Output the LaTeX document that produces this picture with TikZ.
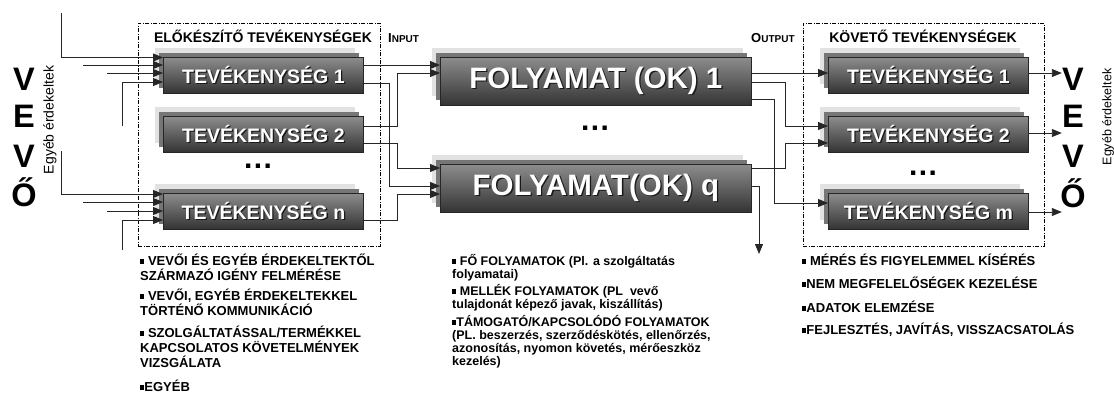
\documentclass[tikz,border=0pt]{standalone}
\usepackage{fontspec}
\setmainfont{Liberation Sans}
\usetikzlibrary{arrows.meta,shadows,calc}
\definecolor{boxtop}{RGB}{140,140,140}
\definecolor{boxbot}{RGB}{52,52,52}
\definecolor{shlight}{RGB}{226,226,226}
\definecolor{shmid}{RGB}{118,118,118}
\newcommand{\shtext}[1]{\rlap{\hspace{1.3pt}\raisebox{-1.3pt}{\color{black!90}#1}}{\color{white}#1}}
\newcommand{\bul}{\rule[1.5pt]{4.2pt}{4.2pt}}
\newcommand{\para}[1]{\parbox[t]{300pt}{\raggedright #1}}
\begin{document}
\begin{tikzpicture}[x=1pt,y=-1pt,
  box/.style={rectangle, anchor=north west, inner sep=0pt, draw=black!85, line width=0.8pt,
     top color=boxtop, bottom color=boxbot,
     copy shadow={shadow xshift=-8.5pt, shadow yshift=9pt, fill=shlight, draw=none},
     copy shadow={shadow xshift=-4pt, shadow yshift=4.5pt, fill=shmid, draw=none}},
  small/.style={box, minimum width=200pt, minimum height=35.5pt, font=\fontsize{19.5}{20}\selectfont\bfseries},
  big/.style={box, minimum width=311pt, minimum height=47.5pt, font=\fontsize{29.5}{30}\selectfont\bfseries},
  group/.style={rectangle, anchor=north west, inner sep=0pt, draw=black, line width=0.8pt,
     dash pattern=on 4pt off 1.5pt on 1pt off 1.5pt},
  title/.style={font=\fontsize{14}{14}\selectfont\bfseries, anchor=base, inner sep=0pt},
  conn/.style={draw=black!85, line width=0.9pt},
  arr/.style={conn, -{Triangle[length=10pt,width=8pt]}},
  big letter/.style={font=\fontsize{32.5}{33}\selectfont\bfseries, anchor=base, inner sep=0pt},
  side/.style={font=\fontsize{14}{14}\selectfont, rotate=90, inner sep=0pt},
  dots/.style={font=\fontsize{30}{30}\selectfont\bfseries, inner sep=0pt, anchor=base},
  colL/.style={font=\fontsize{13}{15}\selectfont\bfseries, anchor=base west, inner sep=0pt},
  colM/.style={font=\fontsize{12.5}{13.3}\selectfont\bfseries, anchor=base west, inner sep=0pt},
  tag/.style={font=\bfseries, anchor=base west, inner sep=0pt}
]
\useasboundingbox (0,0) rectangle (1114,394);

% groups
\node[group, minimum width=242pt, minimum height=223pt] (lgroup) at (138,23) {};
\node[group, minimum width=241pt, minimum height=223pt] (rgroup) at (803,23) {};
\node[title] (ltitle) at (263,42) {ELŐKÉSZÍTŐ TEVÉKENYSÉGEK};
\node[title] (rtitle) at (923,42) {KÖVETŐ TEVÉKENYSÉGEK};
\node[tag] (input) at (388,42) {\fontsize{13}{13}\selectfont I\fontsize{10}{10}\selectfont NPUT};
\node[tag] (output) at (751,42) {\fontsize{13}{13}\selectfont O\fontsize{10}{10}\selectfont UTPUT};

% boxes
\node[small] (a1) at (163,57) {\shtext{TEVÉKENYSÉG 1}};
\node[small] (a2) at (163,116) {\shtext{TEVÉKENYSÉG 2}};
\node[small] (an) at (163,193) {\shtext{TEVÉKENYSÉG n}};
\node[big] (f1) at (440,57) {\shtext{FOLYAMAT (OK) 1}};
\node[big] (fq) at (440,164) {\shtext{FOLYAMAT(OK) q}};
\node[small] (b1) at (828,57) {\shtext{TEVÉKENYSÉG 1}};
\node[small] (b2) at (828,116) {\shtext{TEVÉKENYSÉG 2}};
\node[small] (bm) at (828,193) {\shtext{TEVÉKENYSÉG m}};

\node[dots] (d1) at (258,168) {.\hspace{1.5pt}.\hspace{1.5pt}.};
\node[dots] (d2) at (595,130) {.\hspace{1.5pt}.\hspace{1.5pt}.};
\node[dots] (d3) at (923,175) {.\hspace{1.5pt}.\hspace{1.5pt}.};

% VEVŐ left
\node[big letter] (lv1) at (24,90) {V};
\node[big letter] (le) at (24,127.5) {E};
\node[big letter] (lv2) at (24,167) {V};
\node[big letter] (lo) at (24,206.5) {Ő};
\node[side] (lside) at (50,120) {Egyéb érdekeltek};
% VEVŐ right
\node[big letter] (rv1) at (1073,90) {V};
\node[big letter] (re) at (1073,127.5) {E};
\node[big letter] (rv2) at (1073,167) {V};
\node[big letter] (ro) at (1073,207) {Ő};
\node[side, font=\fontsize{12.5}{12.5}\selectfont] (rside) at (1108,117) {Egyéb érdekeltek};

% left inputs
\coordinate (l1) at (61,13);
\coordinate (l2) at (83,65);
\coordinate (l3) at (107,73);
\coordinate (l4) at (122,126);
\coordinate (l5) at (61,151);
\coordinate (l6) at (83,202);
\coordinate (l7) at (107,211);
\coordinate (l8) at (122,250);
\draw[arr] (l1) |- ($(a1.north west)+(0,0.5)$);
\draw[arr] (l2) -- (l2 -| a1.west);
\draw[arr] (l3) -- (l3 -| a1.west);
\draw[arr] (l4) |- ($(a1.north west)+(0,25)$);
\draw[arr] (l5) |- ($(an.north west)+(0,1)$);
\draw[arr] (l6) -- (l6 -| an.west);
\draw[arr] (l7) -- (l7 -| an.west);
\draw[arr] (l8) |- ($(an.north west)+(0,27)$);

% preparatory -> processes
\draw[arr] ($(a1.north east)+(0,8)$) -- ($(f1.north west)+(0,8)$);
\draw[arr] ($(a1.north east)+(0,26)$) -| ($(fq.north west)+(-51,22)$) -- ($(fq.north west)+(0,22)$);
\draw[arr] ($(a2.north east)+(0,10)$) -| ($(f1.north west)+(-43,16)$) -- ($(f1.north west)+(0,16)$);
\draw[arr] ($(a2.north east)+(0,27)$) -| ($(fq.north west)+(-43,4)$) -- ($(fq.north west)+(0,4)$);
\draw[arr] ($(an.north east)+(0,27)$) -| ($(fq.north west)+(-43,30)$) -- ($(fq.north west)+(0,30)$);

% processes -> following
\draw[arr] ($(f1.north east)+(0,16)$) -- ($(b1.north west)+(0,16)$);
\draw[arr] ($(f1.north east)+(0,25)$) -| ($(b2.north west)+(-43,10)$) -- ($(b2.north west)+(0,10)$);
\draw[arr] ($(f1.north east)+(0,42)$) -| ($(bm.north west)+(-54,10)$) -- ($(bm.north west)+(0,10)$);
\draw[arr] ($(fq.north east)+(0,4)$) -| ($(b2.north west)+(-43,27)$) -- ($(b2.north west)+(0,27)$);
\coordinate (dn) at (759,254);
\draw[arr] ($(fq.north east)+(0,22)$) -| (dn);

% outputs
\draw[arr] ($(b1.north east)+(0,16)$) -- ++(33,0);
\draw[arr] ($(b2.north east)+(0,17)$) -- ++(33,0);
\draw[arr] ($(bm.north east)+(0,19)$) -- ++(33,0);

% texts below
\node[colL] (t1) at (140,265) {\para{\bul{} VEVŐI ÉS EGYÉB ÉRDEKELTEKTŐL\\SZÁRMAZÓ IGÉNY FELMÉRÉSE}};
\node[colL] (t2) at (140,300) {\para{\bul{} VEVŐI, EGYÉB ÉRDEKELTEKKEL\\TÖRTÉNŐ KOMMUNIKÁCIÓ}};
\node[colL] (t3) at (140,337) {\para{\bul{} SZOLGÁLTATÁSSAL/TERMÉKKEL\\KAPCSOLATOS KÖVETELMÉNYEK\\VIZSGÁLATA}};
\node[colL] (t4) at (140,391) {\para{\bul EGYÉB}};

\node[colM] (m1) at (452,265) {\para{\bul{} FŐ FOLYAMATOK (Pl. a szolgáltatás\\folyamatai)}};
\node[colM] (m2) at (452,295) {\para{\bul{} MELLÉK FOLYAMATOK (PL\ \ vevő\\tulajdonát képező javak, kiszállítás)}};
\node[colM] (m3) at (452,326) {\para{\bul TÁMOGATÓ/KAPCSOLÓDÓ FOLYAMATOK\\(PL. beszerzés, szerződéskötés, ellenőrzés,\\azonosítás, nyomon követés, mérőeszköz\\kezelés)}};

\node[colL] (r1) at (802,265) {\para{\bul{} MÉRÉS ÉS FIGYELEMMEL KÍSÉRÉS}};
\node[colL] (r2) at (802,288) {\para{\bul NEM MEGFELELŐSÉGEK KEZELÉSE}};
\node[colL] (r3) at (802,312) {\para{\bul ADATOK ELEMZÉSE}};
\node[colL] (r4) at (802,334) {\para{\bul FEJLESZTÉS, JAVÍTÁS, VISSZACSATOLÁS}};
\end{tikzpicture}
\end{document}
